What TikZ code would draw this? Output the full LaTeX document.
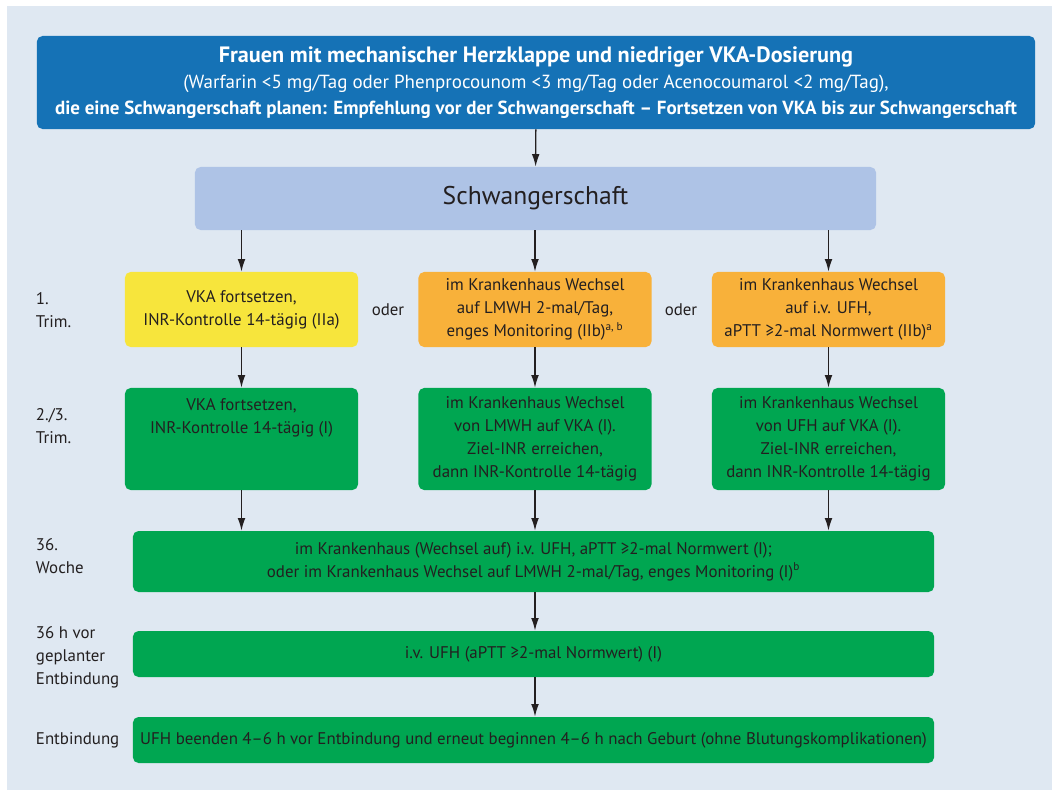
\documentclass[tikz,border=0pt]{standalone}
\usepackage{fontspec}
\setmainfont{PT Sans}
\usetikzlibrary{arrows.meta}

\definecolor{bgblue}{HTML}{DFE8F2}
\definecolor{topblue}{HTML}{1572B6}
\definecolor{schwblue}{HTML}{AEC3E6}
\definecolor{trimyellow}{HTML}{F7E53C}
\definecolor{trimorange}{HTML}{F8B13A}
\definecolor{trimgreen}{HTML}{00A651}
\definecolor{txtgray}{HTML}{231F20}

\begin{document}
\begin{tikzpicture}[x=0.025cm, y=-0.025cm,
        box/.style={rounded corners=4pt, align=center, text=txtgray, inner sep=2pt,
            font=\fontsize{12}{16.3}\selectfont},
        colbox/.style={box, minimum width=5.825cm},
        widebox/.style={box, fill=trimgreen, minimum width=20.025cm},
        rowlabel/.style={anchor=west, align=left, text=txtgray,
            font=\fontsize{12}{16.3}\selectfont},
        arr/.style={-{Latex[length=9pt, width=5.5pt]}, line width=1pt, txtgray}]

    % the frame
    \useasboundingbox (0,0) rectangle (1052,790);
    \fill[bgblue] (7,6) rectangle (1052,790);

    % the head
    \node[box, fill=topblue, text=white, minimum width=24.95cm, minimum height=2.325cm,
        font=\fontsize{13.5}{18.6}\selectfont] (top) at (536,82.5)
        {{\bfseries\fontsize{15.8}{18.6}\selectfont Frauen mit mechanischer Herzklappe und niedriger VKA-Dosierung}\\
         (Warfarin <5 mg/Tag oder Phenprocounom <3 mg/Tag oder Acenocoumarol <2 mg/Tag),\\
         \bfseries die eine Schwangerschaft planen: Empfehlung vor der Schwangerschaft -- Fortsetzen von VKA bis zur Schwangerschaft};
    \node[box, fill=schwblue, minimum width=17.025cm, minimum height=1.575cm,
        font=\fontsize{18.2}{20}\selectfont] (schw) at (535.5,198.5) {Schwangerschaft};

    % 1. Trim.
    \node[colbox, fill=trimyellow, minimum height=1.875cm] (r1a) at (241.5,309.5)
        {VKA fortsetzen,\\INR-Kontrolle 14-tägig (IIa)};
    \node[colbox, fill=trimorange, minimum height=1.875cm] (r1b) at (535,309.5)
        {im Krankenhaus Wechsel\\auf LMWH 2-mal/Tag,\\enges Monitoring (IIb)\textsuperscript{a, b}};
    \node[colbox, fill=trimorange, minimum height=1.875cm] (r1c) at (828.5,309.5)
        {im Krankenhaus Wechsel\\auf i.v. UFH,\\aPTT ≥2-mal Normwert (IIb)\textsuperscript{a}};
    \node[rowlabel] (l1) at (31,310) {1.\\Trim.};
    \node[text=txtgray, font=\fontsize{12}{16.3}\selectfont] (oder1) at (388,310) {oder};
    \node[text=txtgray, font=\fontsize{12}{16.3}\selectfont] (oder2) at (681,310) {oder};

    % 2./3. Trim.
    \node[colbox, fill=trimgreen, minimum height=2.55cm] (r2a) at (241.5,439)
        {VKA fortsetzen,\\INR-Kontrolle 14-tägig (I)\\[16.3pt]};
    \node[colbox, fill=trimgreen, minimum height=2.55cm] (r2b) at (535,439)
        {im Krankenhaus Wechsel\\von LMWH auf VKA (I).\\Ziel-INR erreichen,\\dann INR-Kontrolle 14-tägig};
    \node[colbox, fill=trimgreen, minimum height=2.55cm] (r2c) at (828.5,439)
        {im Krankenhaus Wechsel\\von UFH auf VKA (I).\\Ziel-INR erreichen,\\dann INR-Kontrolle 14-tägig};
    \node[rowlabel] (l2) at (31,426) {2./3.\\Trim.};

    % birth
    \node[widebox, minimum height=1.525cm] (woche) at (533.5,561.5)
        {im Krankenhaus (Wechsel auf) i.v. UFH, aPTT ≥2-mal Normwert (I);\\
         oder im Krankenhaus Wechsel auf LMWH 2-mal/Tag, enges Monitoring (I)\textsuperscript{b}};
    \node[rowlabel] (l3) at (31,556) {36.\\Woche};
    \node[widebox, minimum height=1.15cm] (vor) at (533.5,654)
        {i.v. UFH (aPTT ≥2-mal Normwert) (I)};
    \node[rowlabel] (l4) at (31,657) {36 h vor\\geplanter\\Entbindung};
    \node[widebox, minimum height=1.15cm] (entb) at (533.5,740)
        {UFH beenden 4--6 h vor Entbindung und erneut beginnen 4--6 h nach Geburt (ohne Blutungskomplikationen)};
    \node[rowlabel] (l5) at (31,740) {Entbindung};

    % arrows
    \draw[arr] (top) -- (schw);
    \foreach \c in {a,b,c} {
        \draw[arr] (r1\c.north |- schw.south) -- (r1\c);
        \draw[arr] (r1\c) -- (r2\c);
        \draw[arr] (r2\c) -- (r2\c.south |- woche.north);
    };
    \draw[arr] (r2b.south |- woche.south) -- (r2b.south |- vor.north);
    \draw[arr] (r2b.south |- vor.south) -- (r2b.south |- entb.north);

\end{tikzpicture}
\end{document}
